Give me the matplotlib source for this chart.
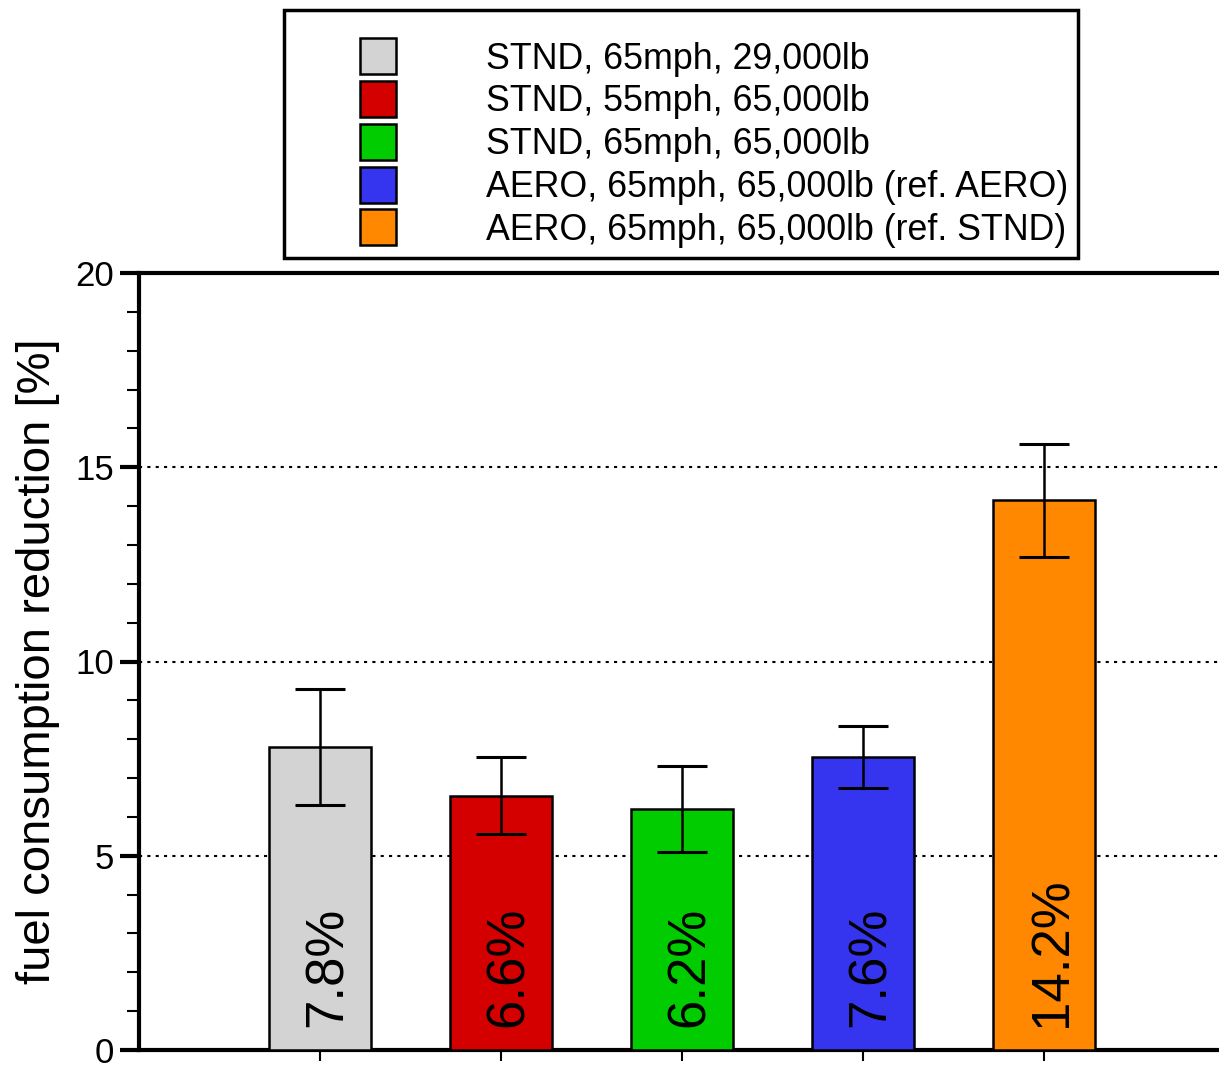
import matplotlib
matplotlib.use("Agg")
import matplotlib.pyplot as plt
from matplotlib.lines import Line2D

plt.rcParams['font.family'] = ['Liberation Sans', 'DejaVu Sans']

labels = ["STND, 65mph, 29,000lb",
          "STND, 55mph, 65,000lb",
          "STND, 65mph, 65,000lb",
          "AERO, 65mph, 65,000lb (ref. AERO)",
          "AERO, 65mph, 65,000lb (ref. STND)"]
values = [7.8, 6.55, 6.2, 7.55, 14.15]
errors = [1.5, 1.0, 1.1, 0.8, 1.45]
value_text = ["7.8%", "6.6%", "6.2%", "7.6%", "14.2%"]
colors = ["#d3d3d3", "#d40000", "#00cc00", "#3535f0", "#ff8800"]
positions = [1, 2, 3, 4, 5]
yticks = [0, 5, 10, 15, 20]

W, H = 1219, 1068
fig = plt.figure(figsize=(W / 100, H / 100), dpi=100)
ax = fig.add_axes([139 / W, 1 - 1050 / H, (W - 139) / W, (1050 - 273) / H])

ax.bar(positions, values, width=0.565, color=colors, edgecolor='black',
       linewidth=1.8, zorder=3)
ax.errorbar(positions, values, yerr=errors, fmt='none', ecolor='black',
            elinewidth=1.8, capsize=18, capthick=2.2, zorder=4)

for p, t in zip(positions, value_text):
    ax.text(p + 0.045, 0.6, t, rotation=90, ha='center', va='bottom',
            fontsize=38, zorder=5)

ax.set_xlim(0, (W - 139) / 181.0)
ax.set_ylim(0, 20)
ax.set_yticks(yticks)
ax.set_yticks(range(0, 21), minor=True)
ax.set_xticks(positions)
ax.set_xticklabels([])
ax.tick_params(axis='y', which='major', length=14, width=3, labelsize=25, pad=4)
ax.tick_params(axis='y', which='minor', length=8.5, width=1.5)
ax.tick_params(axis='x', which='major', length=8, width=1.5, direction='out')

for y in [5, 10, 15]:
    ax.axhline(y, color='black', linestyle=(0, (1.5, 2.5)), linewidth=1.5, zorder=1)

for s in ['left', 'bottom', 'top']:
    ax.spines[s].set_linewidth(3)
ax.spines['right'].set_visible(False)

ax.set_ylabel("fuel consumption reduction [%]", fontsize=34, labelpad=11)

handles = [Line2D([], [], linestyle='none', marker='s', markersize=26,
                  markerfacecolor=c, markeredgecolor='black', markeredgewidth=1.8)
           for c in colors]
leg = fig.legend(handles, labels, loc='upper left',
                 bbox_to_anchor=(284 / W, 1 - 10 / H), fontsize=25.75,
                 title=" ", title_fontsize=11,
                 frameon=True, fancybox=False, edgecolor='black', framealpha=1,
                 handlelength=4.72, handletextpad=0.66,
                 labelspacing=0.22, borderpad=0.27, borderaxespad=0)
leg.get_frame().set_linewidth(2.5)

fig.savefig("out.png", dpi=100)
